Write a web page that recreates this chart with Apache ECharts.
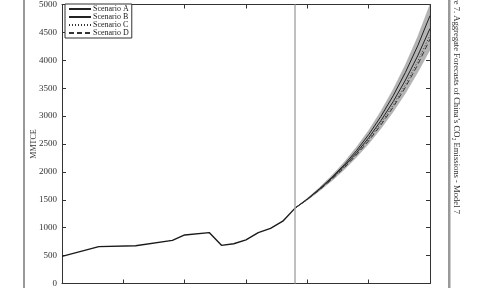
<!DOCTYPE html>
<html>
<head>
<meta charset="utf-8">
<script src="https://cdn.jsdelivr.net/npm/echarts@6/dist/echarts.min.js"></script>
<style>
html,body{margin:0;padding:0;background:#fff;}
#chart{width:480px;height:288px;}
</style>
</head>
<body>
<div id="chart"></div>
<script>
// Historical data (x in years from start of series)
var histX = [0, 3, 6, 9, 10, 12, 13, 14, 15, 16, 17, 18, 19];
var histY = [485, 660, 677, 772, 870, 912, 684, 712, 782, 912, 988, 1116, 1351];

// Forecast period
var forecastStart = 19;
var foreX = [19, 20, 21, 22, 23, 24, 25, 26, 27, 28, 29, 30];
var scenA = [1351, 1515, 1700, 1902, 2128, 2380, 2668, 2995, 3365, 3785, 4260, 4800];
var scenB = [1351, 1510, 1690, 1887, 2102, 2342, 2612, 2918, 3260, 3646, 4080, 4570];
var scenC = [1351, 1507, 1684, 1876, 2086, 2320, 2580, 2873, 3198, 3566, 3980, 4450];
var scenD = [1351, 1505, 1679, 1867, 2073, 2303, 2557, 2842, 3160, 3518, 3920, 4380];
var bandLow = [1351, 1495, 1660, 1840, 2040, 2262, 2505, 2778, 3080, 3412, 3785, 4190];
var bandHigh = [1351, 1526, 1722, 1935, 2172, 2440, 2742, 3086, 3478, 3920, 4420, 5000];

// Axis ticks
var xMin = 0, xMax = 30, xStep = 5;
var yMin = 0, yMax = 5000, yStep = 500;

var legendNames = ['Scenario A', 'Scenario B', 'Scenario C', 'Scenario D'];
var figTitle = "Figure 7. Aggregate Forecasts of China\u2019s CO\u2082 Emissions - Model 7";

function pairs(xs, ys) { return xs.map(function (x, i) { return [x, ys[i]]; }); }

var serif = 'Liberation Serif';
var axisCol = '#333';

var chart = echarts.init(document.getElementById('chart'), null, {renderer: 'canvas'});
var xAxisBase = {
  type: 'value', min: xMin, max: xMax, interval: xStep,
  axisLine: {show: true, onZero: false, lineStyle: {color: axisCol, width: 1}},
  axisTick: {show: true, inside: true, length: 4, lineStyle: {color: axisCol}},
  axisLabel: {show: false},
  splitLine: {show: false}
};
var yAxisBase = {
  type: 'value', min: yMin, max: yMax, interval: yStep,
  axisLine: {show: true, onZero: false, lineStyle: {color: axisCol, width: 1}},
  axisTick: {show: true, inside: true, length: 4, lineStyle: {color: axisCol}},
  splitLine: {show: false}
};

function renderBand(params, api) {
  var upper = [], lower = [];
  for (var i = 0; i < foreX.length; i++) {
    upper.push(api.coord([foreX[i], bandHigh[i]]));
    lower.unshift(api.coord([foreX[i], bandLow[i]]));
  }
  return {
    type: 'polygon',
    shape: {points: upper.concat(lower)},
    style: {fill: '#b4b4b4', stroke: '#a4a4a4', lineWidth: 0.5},
    clipPath: {type: 'rect', shape: {x: params.coordSys.x, y: params.coordSys.y, width: params.coordSys.width, height: params.coordSys.height}}
  };
}

chart.setOption({
  animation: false,
  backgroundColor: '#fff',
  grid: {left: 62, right: 50, top: 1, bottom: 3, containLabel: false},
  xAxis: [
    Object.assign({}, xAxisBase, {position: 'bottom'}),
    Object.assign({}, xAxisBase, {position: 'top'})
  ],
  yAxis: [
    Object.assign({}, yAxisBase, {
      position: 'left',
      name: 'MMTCE', nameLocation: 'middle', nameGap: 24, nameRotate: 90, nameMoveOverlap: false,
      nameTextStyle: {fontFamily: serif, fontSize: 8, color: '#333'},
      axisLabel: {show: true, fontFamily: serif, fontSize: 9, color: '#333', margin: 5,
        formatter: function (v) { return String(v); }}
    }),
    Object.assign({}, yAxisBase, {position: 'right', axisLabel: {show: false}})
  ],
  legend: {
    data: [
      {name: 'Scenario A', itemStyle: {opacity: 0}},
      {name: 'Scenario B', itemStyle: {opacity: 0}},
      {name: 'Scenario C', itemStyle: {opacity: 0}},
      {name: 'Scenario D', itemStyle: {opacity: 0}}
    ],
    orient: 'vertical', left: 65, top: 4,
    itemWidth: 22, itemHeight: 8, itemGap: 0,
    padding: [1, 3, 1, 3],
    borderColor: '#333', borderWidth: 1, backgroundColor: '#fff',
    textStyle: {fontFamily: serif, fontSize: 8, color: '#222', padding: [0, 0, 0, -3]}
  },
  graphic: [
    {type: 'rect', left: 23, top: 0, shape: {width: 2, height: 288}, style: {fill: '#999'}, silent: true},
    {type: 'rect', left: 448, top: 0, shape: {width: 2.5, height: 288}, style: {fill: '#999'}, silent: true},
    {type: 'text', x: 456, y: 214, rotation: -Math.PI / 2,
     style: {text: figTitle, fill: '#333', font: '8.6px "Liberation Serif"', textAlign: 'right', textVerticalAlign: 'middle'}, silent: true}
  ],
  series: [
    {name: 'band', type: 'custom', renderItem: renderBand, data: [0], silent: true, z: 1},
    {name: 'Historical', type: 'line', data: pairs(histX, histY), symbol: 'none',
     lineStyle: {color: '#1a1a1a', width: 1.4}, z: 3,
     markLine: {silent: true, symbol: ['none', 'none'], label: {show: false},
       lineStyle: {color: '#aaa', width: 1.5, type: 'solid'},
       data: [{xAxis: forecastStart}]}},
    {name: 'Scenario A', type: 'line', data: pairs(foreX, scenA), symbol: 'none',
     lineStyle: {color: '#222', width: 1, type: 'solid'}, itemStyle: {color: '#222'}, z: 3},
    {name: 'Scenario B', type: 'line', data: pairs(foreX, scenB), symbol: 'none',
     lineStyle: {color: '#222', width: 1, type: 'solid'}, itemStyle: {color: '#222'}, z: 3},
    {name: 'Scenario C', type: 'line', data: pairs(foreX, scenC), symbol: 'none',
     lineStyle: {color: '#333', width: 1, type: [1, 2]}, itemStyle: {color: '#333'}, z: 3},
    {name: 'Scenario D', type: 'line', data: pairs(foreX, scenD), symbol: 'none',
     lineStyle: {color: '#333', width: 1, type: [5, 3]}, itemStyle: {color: '#333'}, z: 3}
  ]
});
</script>
</body>
</html>
